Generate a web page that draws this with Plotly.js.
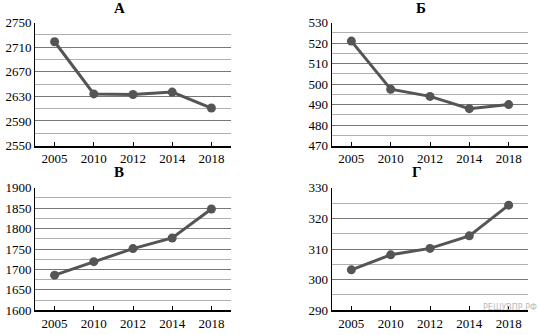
<!DOCTYPE html>
<html><head><meta charset="utf-8">
<script src="https://cdn.plot.ly/plotly-3.0.1.min.js"></script>
<style>html,body{margin:0;padding:0;background:#fff}#c{width:539px;height:335px}</style>
</head><body><div id="c"></div>
<script>
const years = ['2005','2010','2012','2014','2018'];
const titles = ['А','Б','В','Г'];
const valuesA = [2719, 2634, 2633, 2637, 2611];
const valuesB = [521, 497.5, 494, 488, 490];
const valuesC = [1686, 1719, 1751, 1777, 1848];
const valuesD = [303.2, 308.1, 310.2, 314.3, 324.3];
const yRanges = [[2550, 2750], [470, 530], [1600, 1900], [290, 330]];
const yLabelStep = [40, 10, 50, 10];
const yGridStep = [20, 5, 25, 5];
const watermark = 'РЕШУВПР.РФ';

const series = [valuesA, valuesB, valuesC, valuesD];
const W = 539, H = 335;
const xDom = [[35 / W, 231 / W], [331.7 / W, 528.3 / W]];
const yDom = [[1 - 145.5 / H, 1 - 22.7 / H], [1 - 310.3 / H, 1 - 187.7 / H]];
const titleX = [119 / W, 421 / W, 119 / W, 417 / W];
const titleY = [1 - 8 / H, 1 - 8 / H, 1 - 172 / H, 1 - 172 / H];

const font = {family: 'Liberation Serif, Times New Roman, serif', size: 13, color: '#000'};
const data = [];
const layout = {
  width: W, height: H,
  margin: {l: 0, r: 0, t: 0, b: 0},
  paper_bgcolor: '#fff', plot_bgcolor: '#fff',
  showlegend: false,
  font: font,
  annotations: []
};
for (let i = 0; i < 4; i++) {
  const n = i === 0 ? '' : String(i + 1);
  data.push({
    x: years, y: series[i], type: 'scatter', mode: 'lines+markers',
    xaxis: 'x' + n, yaxis: 'y' + n,
    line: {color: '#555', width: 3},
    marker: {color: '#555', size: 9},
    hoverinfo: 'skip'
  });
  const col = i % 2, row = Math.floor(i / 2);
  layout['xaxis' + n] = {
    type: 'category', domain: xDom[col], anchor: 'y' + n,
    range: [-0.5, 4.5], showgrid: false, zeroline: false,
    showline: true, linecolor: '#000', linewidth: 2,
    ticks: 'inside', ticklen: 4, tickwidth: 1, tickcolor: '#000',
    tickfont: font, fixedrange: true
  };
  layout['yaxis' + n] = {
    domain: yDom[row], anchor: 'x' + n,
    range: yRanges[i], tick0: yRanges[i][0], dtick: yLabelStep[i],
    showgrid: true, gridcolor: '#777', gridwidth: 1,
    minor: {dtick: yGridStep[i], tick0: yRanges[i][0], showgrid: true, gridcolor: '#b0b0b0', gridwidth: 1},
    zeroline: false, showline: true, linecolor: '#000', linewidth: 1,
    ticks: '', tickfont: font, fixedrange: true
  };
  layout.annotations.push({
    text: '<b>' + titles[i] + '</b>', xref: 'paper', yref: 'paper',
    x: titleX[i], y: titleY[i], xanchor: 'center', yanchor: 'middle',
    showarrow: false, font: {family: font.family, size: 15, color: '#000'}
  });
}
layout.annotations.push({
  text: watermark, xref: 'paper', yref: 'paper', x: 1, y: 1 - 307 / H,
  xanchor: 'right', yanchor: 'middle', showarrow: false,
  font: {family: 'DejaVu Sans, sans-serif', size: 8, color: '#bbb'}
});
Plotly.newPlot('c', data, layout, {displayModeBar: false, staticPlot: true});
</script></body></html>
